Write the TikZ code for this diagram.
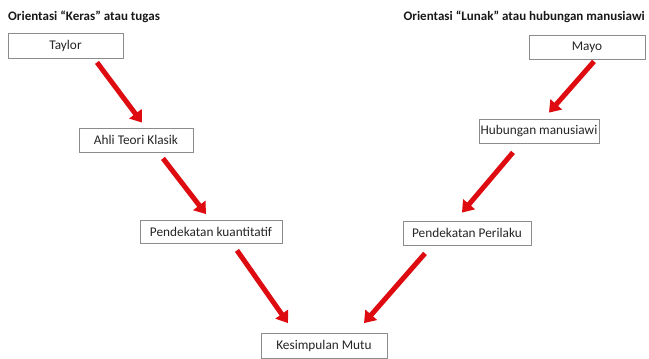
\documentclass[tikz,border=0pt]{standalone}
\usepackage{fontspec}
\setmainfont{Carlito}
\usetikzlibrary{arrows.meta,calc}
\definecolor{arrowred}{RGB}{222,12,16}
\definecolor{boxgray}{RGB}{140,140,140}
\begin{document}
\begin{tikzpicture}[x=1pt,y=-1pt,
  box/.style={draw=boxgray,line width=0.8pt,fill=white,rectangle,inner sep=0pt,
    font=\fontsize{13.3}{15}\selectfont,text=black!85},
  flow/.style={draw=arrowred,line width=5pt,
    -{Triangle[length=11pt,width=15pt,fill=arrowred]}},
  heading/.style={font=\bfseries\fontsize{13}{15}\selectfont,text=black!90,inner sep=0pt}]
  \useasboundingbox[fill=white] (0,0) rectangle (649,359);

  % column headings
  \node[heading,anchor=west] (lefthead) at (8,17) {Orientasi “Keras” atau tugas};
  \node[heading,anchor=east] (righthead) at (645,17) {Orientasi “Lunak” atau hubungan manusiawi};

  % boxes
  \node[box,minimum width=115pt,minimum height=25pt] (taylor) at (65.5,45.5) {Taylor};
  \node[box,minimum width=114pt,minimum height=24pt] (ahli) at (136,140) {Ahli Teori Klasik};
  \node[box,minimum width=142pt,minimum height=23pt] (kuant) at (211,232) {Pendekatan kuantitatif};
  \node[box,minimum width=126pt,minimum height=25pt] (kes) at (324,346) {Kesimpulan Mutu};
  \node[box,minimum width=116pt,minimum height=24pt] (mayo) at (587,47) {Mayo};
  \node[box,minimum width=120pt,minimum height=24pt] (hub) at (539,131) {Hubungan manusiawi};
  \node[box,minimum width=128pt,minimum height=24pt] (peri) at (467,233) {Pendekatan Perilaku};

  % arrows, left branch
  \draw[flow] ($(taylor.south)+(31.5,4)$) -- ($(ahli.north)+(6,-5)$);
  \draw[flow] ($(ahli.south)+(27,6)$) -- ($(kuant.north)+(-5,-6)$);
  \draw[flow] ($(kuant.south)+(26,6.5)$) -- ($(kes.north)+(-36,-10)$);
  % arrows, right branch
  \draw[flow] ($(mayo.south)+(7,2)$) -- ($(hub.north)+(10,-6)$);
  \draw[flow] ($(hub.south)+(-26,9)$) -- ($(peri.north)+(-5,-8)$);
  \draw[flow] ($(peri.south)+(-42,8)$) -- ($(kes.north)+(40,-10)$);
\end{tikzpicture}
\end{document}
